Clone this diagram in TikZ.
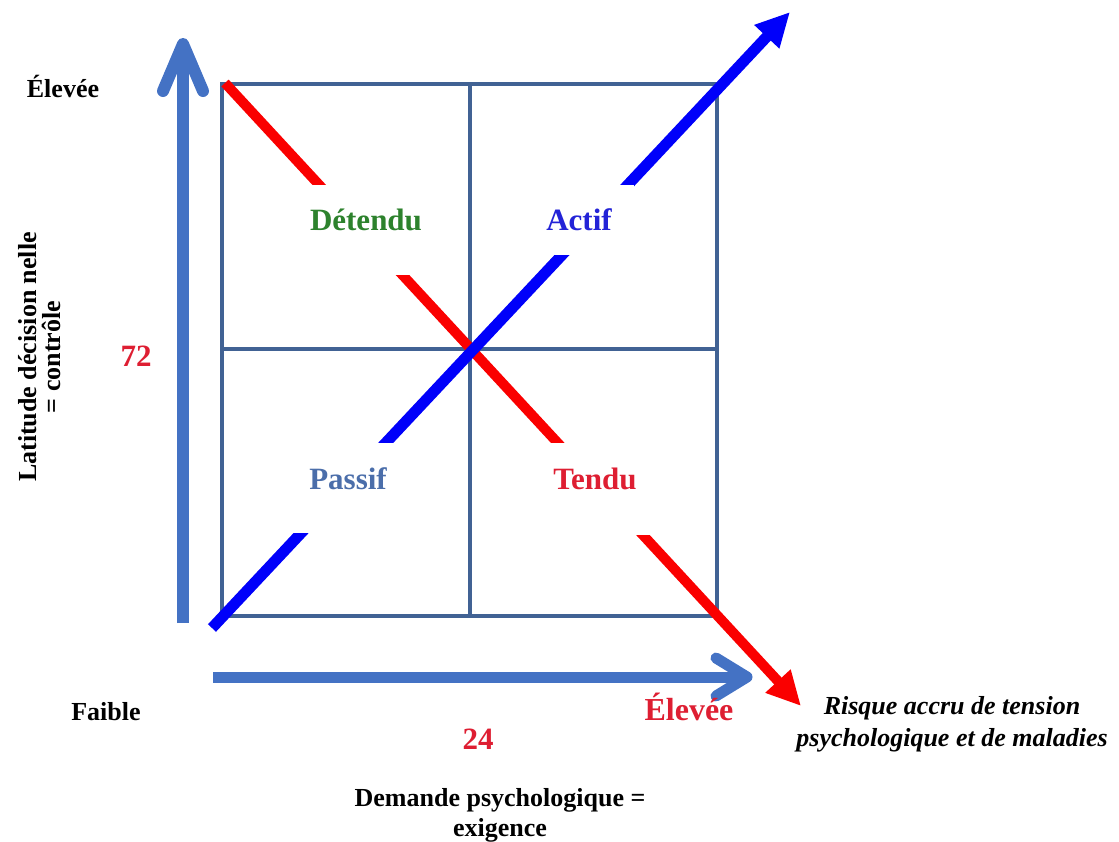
\documentclass[tikz,border=0pt]{standalone}
\usepackage{fontspec}
\setmainfont{Liberation Serif}
\usetikzlibrary{arrows.meta}
\definecolor{axisblue}{RGB}{68,114,196}
\definecolor{gridblue}{RGB}{65,98,148}
\definecolor{diagblue}{RGB}{0,0,250}
\definecolor{diagred}{RGB}{250,0,0}
\definecolor{labred}{RGB}{222,30,50}
\definecolor{labgreen}{RGB}{45,130,45}
\definecolor{labblue}{RGB}{35,35,215}
\definecolor{labsteel}{RGB}{75,110,170}
\begin{document}
\begin{tikzpicture}[x=1pt,y=-1pt,
  grid/.style={draw=gridblue,line width=3.5pt},
  axisline/.style={draw=axisblue,line width=12pt},
  chevron/.style={draw=axisblue,line width=12pt,line cap=round,line join=round},
  diag/.style={line width=11pt,-{Triangle[length=34pt,width=32pt]}},
  quad/.style={fill=white,anchor=base,font=\bfseries\fontsize{31}{31}\selectfont,inner xsep=0pt,inner ysep=0pt,minimum width=140pt},
  lab/.style={anchor=base,font=\bfseries\fontsize{26}{26}\selectfont,text=black},
  num/.style={anchor=base,font=\bfseries\fontsize{31}{31}\selectfont,text=labred},
]
\useasboundingbox (0,0) rectangle (1119,841);
% grid
\coordinate (gtl) at (222,84);
\coordinate (gbr) at (717,616);
\coordinate (gmt) at (470,84);
\coordinate (gmb) at (470,616);
\coordinate (gml) at (222,349);
\coordinate (gmr) at (717,349);
\draw[grid] (gtl) rectangle (gbr);
\draw[grid] (gmt) -- (gmb);
\draw[grid] (gml) -- (gmr);
% vertical axis
\coordinate (vbot) at (183,623);
\coordinate (vtip) at (183,44);
\coordinate (vl) at (163,91);
\coordinate (vr) at (203,91);
\draw[axisline] (vbot) -- (vtip);
\draw[chevron] (vl) -- (vtip) -- (vr);
% horizontal axis
\coordinate (hl) at (213,677);
\coordinate (htip) at (747,677);
\coordinate (hu) at (716,658);
\coordinate (hd) at (716,696);
\draw[axisline,line width=11pt] (hl) -- (htip);
\draw[chevron,line width=11pt] (hu) -- (htip) -- (hd);
% diagonals
\coordinate (rs) at (225,83);
\coordinate (rt) at (801,706);
\coordinate (bs) at (212,628);
\coordinate (bt) at (790,12);
\draw[diag,color=diagred,line width=10pt] (rs) -- (rt);
\draw[diag,color=diagblue] (bs) -- (bt);
% quadrant labels
\node[quad,text=labgreen,text height=45pt,text depth=45pt] (detendu) at (366,230) {Détendu};
\node[quad,text=labblue,text height=45pt,text depth=25pt,minimum width=110pt] (actif) at (579,230) {Actif};
\node[quad,text=labsteel,text height=46pt,text depth=44pt] (passif) at (348,489) {Passif};
\node[quad,text=labred,text height=46pt,text depth=46pt] (tendu) at (595,489) {Tendu};
% other labels
\node[lab] (elevtop) at (63,97) {Élevée};
\node[lab] (faible) at (106,720) {Faible};
\node[num] (n72) at (136,366) {72};
\node[num] (n24) at (478,749) {24};
\node[num,font=\bfseries\fontsize{32}{32}\selectfont] (elevred) at (689,720) {Élevée};
\node[lab,anchor=center,rotate=90,align=center,font=\bfseries\fontsize{26}{24}\selectfont] (latitude) at (40,357) {Latitude décision nelle\\= contrôle};
\node[lab,anchor=center,align=center,font=\bfseries\itshape\fontsize{26}{32}\selectfont] (risque) at (952,724) {Risque accru de tension\\psychologique et de maladies};
\node[lab,anchor=center,align=center,font=\bfseries\fontsize{26}{30}\selectfont] (demande) at (500,815) {Demande psychologique =\\exigence};
\end{tikzpicture}
\end{document}
